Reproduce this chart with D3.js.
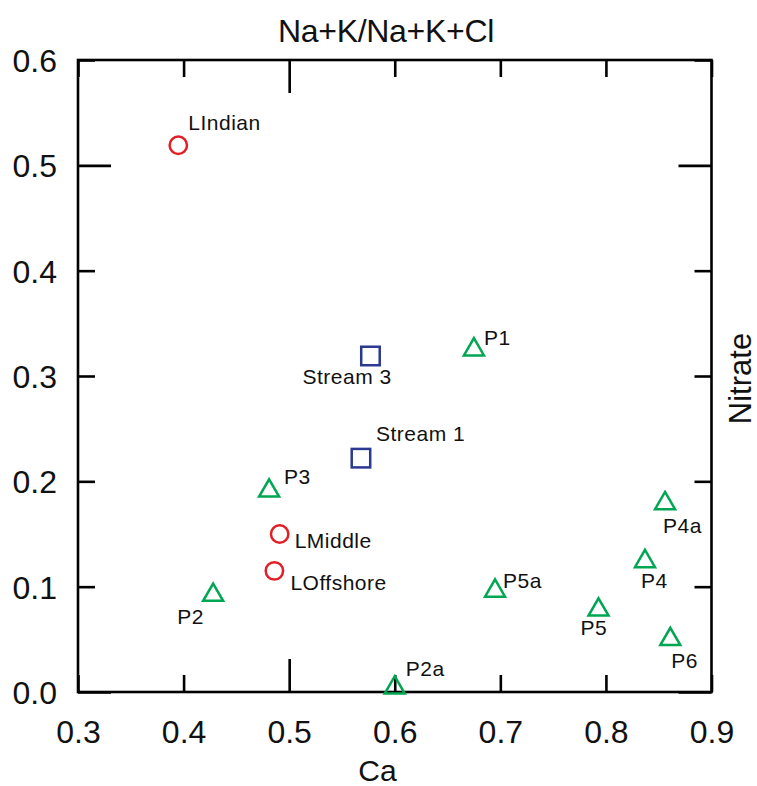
<!DOCTYPE html>
<html>
<head>
<meta charset="utf-8">
<script src="https://cdn.jsdelivr.net/npm/d3@7"></script>
<style>
  html, body { margin: 0; padding: 0; background: #fff; }
  svg { display: block; font-family: "Liberation Sans", Arial, sans-serif; }
</style>
</head>
<body>
<svg id="chart" width="757" height="786"></svg>
<script>
// ---- data ----
const sampleNames = ["LIndian", "LMiddle", "LOffshore", "Stream 3", "Stream 1",
  "P1", "P2", "P2a", "P3", "P4", "P4a", "P5", "P5a", "P6"];
const sampleGroups = ["lake", "lake", "lake", "stream", "stream",
  "pond", "pond", "pond", "pond", "pond", "pond", "pond", "pond", "pond"];
const caValues = [0.395, 0.491, 0.486, 0.577, 0.568,
  0.675, 0.428, 0.600, 0.481, 0.837, 0.856, 0.793, 0.695, 0.861];
const nitrateValues = [0.519, 0.150, 0.115, 0.319, 0.222,
  0.325, 0.092, 0.004, 0.191, 0.124, 0.179, 0.078, 0.096, 0.050];
const xTickValues = [0.3, 0.4, 0.5, 0.6, 0.7, 0.8, 0.9];
const yTickValues = [0.0, 0.1, 0.2, 0.3, 0.4, 0.5, 0.6];
const titleText = "Na+K/Na+K+Cl";
const xTitle = "Ca";
const yTitle = "Nitrate";

// ---- style / layout ----
const groupColor = { lake: "#e31e24", stream: "#2b3990", pond: "#00a651" };
const labelOffset = {
  "LIndian": [10, -15], "LMiddle": [15, 14], "LOffshore": [16, 19],
  "Stream 3": [-68, 28], "Stream 1": [15, -17],
  "P1": [10, -5], "P2": [-36, 29], "P2a": [11, -12], "P3": [15, -7],
  "P4": [-4, 27], "P4a": [-2, 30], "P5": [-18, 25], "P5a": [8, -3], "P6": [1, 29]
};
const plotLeft = 78, plotRight = 711.5, plotTop = 60, plotBottom = 692;
const axisStroke = 2.6;

const svg = d3.select("#chart");
const x = d3.scaleLinear().domain([0.3, 0.9]).range([plotLeft, plotRight]);
const y = d3.scaleLinear().domain([0, 0.6]).range([plotBottom, plotTop]);

const data = sampleNames.map((n, i) => ({
  name: n, group: sampleGroups[i], ca: caValues[i], no3: nitrateValues[i]
}));

const isMajor = v => Math.abs(v / 0.5 - Math.round(v / 0.5)) < 1e-6;
const fmt = d3.format(".1f");

function styleAxis(g, dirX, dirY) {
  g.select(".domain").remove();
  g.selectAll(".tick line")
    .attr("stroke", "#000")
    .attr("stroke-width", axisStroke)
    .each(function(d) {
      const len = isMajor(d) ? 33 : 17;
      d3.select(this).attr("x2", dirX * len).attr("y2", dirY * len);
    });
}

// bottom axis
const gB = svg.append("g").attr("transform", `translate(0,${plotBottom})`)
  .call(d3.axisBottom(x).tickValues(xTickValues).tickFormat(fmt).tickSize(0));
styleAxis(gB, 0, -1);
gB.selectAll(".tick text")
  .attr("y", 50.7).attr("dy", null)
  .attr("font-size", 32).attr("font-family", "Liberation Sans, Arial, sans-serif")
  .attr("fill", "#111");

// left axis
const gL = svg.append("g").attr("transform", `translate(${plotLeft},0)`)
  .call(d3.axisLeft(y).tickValues(yTickValues).tickFormat(fmt).tickSize(0));
styleAxis(gL, 1, 0);
gL.selectAll(".tick text")
  .attr("x", -21).attr("dy", 11.5)
  .attr("font-size", 32).attr("font-family", "Liberation Sans, Arial, sans-serif")
  .attr("fill", "#111");

// top axis
const gT = svg.append("g").attr("transform", `translate(0,${plotTop})`)
  .call(d3.axisTop(x).tickValues(xTickValues).tickFormat("").tickSize(0));
styleAxis(gT, 0, 1);

// right axis
const gR = svg.append("g").attr("transform", `translate(${plotRight},0)`)
  .call(d3.axisRight(y).tickValues(yTickValues).tickFormat("").tickSize(0));
styleAxis(gR, -1, 0);

// frame
svg.append("rect")
  .attr("x", plotLeft).attr("y", plotTop)
  .attr("width", plotRight - plotLeft).attr("height", plotBottom - plotTop)
  .attr("fill", "none").attr("stroke", "#000").attr("stroke-width", axisStroke);

// markers
const markerStroke = 2.5;
const triSide = 20, triH = triSide * Math.sqrt(3) / 2;
const pts = svg.append("g");
data.forEach(d => {
  const cx = x(d.ca), cy = y(d.no3), c = groupColor[d.group];
  if (d.group === "lake") {
    pts.append("circle").attr("cx", cx).attr("cy", cy).attr("r", 8.7)
      .attr("fill", "none").attr("stroke", c).attr("stroke-width", markerStroke);
  } else if (d.group === "stream") {
    const s = 18.5;
    pts.append("rect").attr("x", cx - s / 2).attr("y", cy - s / 2)
      .attr("width", s).attr("height", s)
      .attr("fill", "none").attr("stroke", c).attr("stroke-width", markerStroke);
  } else {
    const p = [[cx, cy - 2 * triH / 3], [cx + triSide / 2, cy + triH / 3], [cx - triSide / 2, cy + triH / 3]];
    pts.append("path").attr("d", "M" + p.map(q => q.join(",")).join("L") + "Z")
      .attr("fill", "none").attr("stroke", c).attr("stroke-width", markerStroke)
      .attr("stroke-linejoin", "miter");
  }
  const off = labelOffset[d.name];
  pts.append("text").attr("x", cx + off[0]).attr("y", cy + off[1])
    .attr("font-size", 21).attr("letter-spacing", 0.5).attr("fill", "#111").text(d.name);
});

// titles
svg.append("text").attr("x", 386).attr("y", 41.5).attr("text-anchor", "middle")
  .attr("font-size", 32).attr("letter-spacing", -0.3).attr("fill", "#111").text(titleText);
svg.append("text").attr("x", 377.5).attr("y", 781).attr("text-anchor", "middle")
  .attr("font-size", 30).attr("fill", "#111").text(xTitle);
svg.append("text").attr("transform", "translate(751,378.5) rotate(-90)")
  .attr("text-anchor", "middle").attr("font-size", 31).attr("fill", "#111").text(yTitle);
</script>
</body>
</html>
